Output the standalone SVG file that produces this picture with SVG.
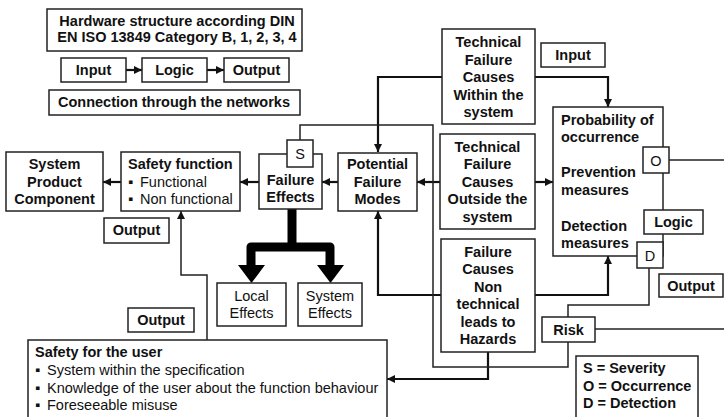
<svg xmlns="http://www.w3.org/2000/svg" width="724" height="417" viewBox="0 0 724 417">
<defs>
<style>
.box{fill:#fff;stroke:#222;stroke-width:1.5}
.b{font-family:"Liberation Sans","DejaVu Sans",Arial,sans-serif;font-weight:bold;font-size:14.5px;fill:#111}
.n{font-family:"Liberation Sans","DejaVu Sans",Arial,sans-serif;font-size:14.5px;fill:#111}
.c{text-anchor:middle}
.thick{fill:none;stroke:#111;stroke-width:2.2}
.thin{fill:none;stroke:#222;stroke-width:1.5}
.tree{fill:none;stroke:#000;stroke-width:9;stroke-linejoin:round}
</style>
<marker id="ah" viewBox="0 0 10 10" refX="10" refY="5" markerWidth="9" markerHeight="8" markerUnits="userSpaceOnUse" orient="auto">
<path d="M0,0 L10,5 L0,10 z" fill="#111"/>
</marker>
</defs>
<rect width="724" height="417" fill="#fff"/>

<g id="connectors">
<path class="thick" d="M126,70 H142" marker-end="url(#ah)"/>
<path class="thick" d="M207,70 H224" marker-end="url(#ah)"/>
<path class="thick" d="M442,77 H378 V152" marker-end="url(#ah)"/>
<path class="thick" d="M535,77 H608 V107" marker-end="url(#ah)"/>
<path class="thick" d="M440,182 H417" marker-end="url(#ah)"/>
<path class="thick" d="M535,182 H553" marker-end="url(#ah)"/>
<path class="thick" d="M338,182 H322" marker-end="url(#ah)"/>
<path class="thick" d="M259,182 H240" marker-end="url(#ah)"/>
<path class="thick" d="M121,182 H103" marker-end="url(#ah)"/>
<path class="thick" d="M441,295 H378 V211" marker-end="url(#ah)"/>
<path class="thick" d="M535,295 H608 V256" marker-end="url(#ah)"/>
<path class="thick" d="M488,352 V379 H387" marker-end="url(#ah)"/>
<path class="thin" d="M300,140 V125 H433 V367 H568 V342"/>
<path class="thin" d="M649,268 V305 H568 V317"/>
<path class="thin" d="M669,160 H724"/>
<path class="thin" d="M595,329 H724"/>
<path class="thin" d="M207,340 V275 H181 V211" marker-end="url(#ah)"/>
<path class="tree" d="M292,209 V247 H251 V266 M292,247 H330 V266"/>
<polygon points="238,265 265,265 251.5,283" fill="#000"/>
<polygon points="317,265 344,265 330.5,283" fill="#000"/>
</g>

<g id="hardware">
<rect class="box" x="47" y="9" width="255" height="42"/>
<text class="b c" x="177" y="26">Hardware structure according DIN</text>
<text class="b c" x="177" y="42">EN ISO 13849 Category B, 1, 2, 3, 4</text>
</g>
<g id="input-top"><rect class="box" x="61" y="58" width="65" height="24"/><text class="b c" x="93.5" y="75">Input</text></g>
<g id="logic-top"><rect class="box" x="142" y="58" width="65" height="24"/><text class="b c" x="174.5" y="75">Logic</text></g>
<g id="output-top"><rect class="box" x="224" y="58" width="65" height="24"/><text class="b c" x="256.5" y="75">Output</text></g>
<g id="connection"><rect class="box" x="49" y="90" width="251" height="25"/><text class="b c" x="174" y="107">Connection through the networks</text></g>

<g id="tech-within">
<rect class="box" x="442" y="29" width="93" height="95"/>
<text class="b c" x="488.5" y="47">Technical</text>
<text class="b c" x="488.5" y="65">Failure</text>
<text class="b c" x="488.5" y="82">Causes</text>
<text class="b c" x="488.5" y="100">Within the</text>
<text class="b c" x="488.5" y="117">system</text>
</g>
<g id="input-label"><rect class="box" x="541" y="43" width="64" height="24"/><text class="b c" x="573" y="60">Input</text></g>

<g id="probability">
<rect class="box" x="553" y="107" width="110" height="149"/>
<text class="b" x="561" y="125">Probability of</text>
<text class="b" x="561" y="142">occurrence</text>
<text class="b" x="561" y="177">Prevention</text>
<text class="b" x="561" y="195">measures</text>
<text class="b" x="561" y="231">Detection</text>
<text class="b" x="561" y="248">measures</text>
</g>
<g id="o-box"><rect class="box" x="643" y="147" width="26" height="26"/><text class="n c" x="656" y="166" font-size="16">O</text></g>
<g id="logic-right"><rect class="box" x="644" y="210" width="59" height="24"/><text class="b c" x="673.5" y="227">Logic</text></g>
<g id="d-box"><rect class="box" x="637" y="242" width="26" height="26"/><text class="n c" x="650" y="261" font-size="16">D</text></g>
<g id="output-right"><rect class="box" x="659" y="274" width="64" height="23"/><text class="b c" x="691" y="291">Output</text></g>

<g id="tech-outside">
<rect class="box" x="440" y="134" width="95" height="95"/>
<text class="b c" x="487.5" y="152">Technical</text>
<text class="b c" x="487.5" y="169">Failure</text>
<text class="b c" x="487.5" y="187">Causes</text>
<text class="b c" x="487.5" y="204">Outside the</text>
<text class="b c" x="487.5" y="222">system</text>
</g>

<g id="non-technical">
<rect class="box" x="441" y="239" width="94" height="113"/>
<text class="b c" x="488" y="257">Failure</text>
<text class="b c" x="488" y="274">Causes</text>
<text class="b c" x="488" y="292">Non</text>
<text class="b c" x="488" y="309">technical</text>
<text class="b c" x="488" y="327">leads to</text>
<text class="b c" x="488" y="344">Hazards</text>
</g>

<g id="potential">
<rect class="box" x="338" y="153" width="79" height="58"/>
<text class="b c" x="377.5" y="169">Potential</text>
<text class="b c" x="377.5" y="187">Failure</text>
<text class="b c" x="377.5" y="204">Modes</text>
</g>

<g id="failure-effects">
<rect class="box" x="259" y="154" width="63" height="55"/>
<text class="b c" x="290.5" y="185">Failure</text>
<text class="b c" x="290.5" y="202">Effects</text>
</g>
<g id="s-box"><rect class="box" x="287" y="140" width="26" height="27"/><text class="n c" x="300" y="159" font-size="16">S</text></g>

<g id="safety-function">
<rect class="box" x="121" y="152" width="119" height="59"/>
<text class="b" x="128" y="169">Safety function</text>
<text class="n" x="128" y="187">▪</text><text class="n" x="140" y="187">Functional</text>
<text class="n" x="128" y="204">▪</text><text class="n" x="140" y="204">Non functional</text>
</g>

<g id="system-product">
<rect class="box" x="6" y="152" width="97" height="59"/>
<text class="b c" x="54.5" y="169">System</text>
<text class="b c" x="54.5" y="187">Product</text>
<text class="b c" x="54.5" y="204">Component</text>
</g>
<g id="output-left"><rect class="box" x="104" y="218" width="65" height="25"/><text class="b c" x="136.5" y="235">Output</text></g>

<g id="local-effects">
<rect class="box" x="217" y="283" width="69" height="43"/>
<text class="n c" x="251.5" y="301">Local</text>
<text class="n c" x="251.5" y="318">Effects</text>
</g>
<g id="system-effects">
<rect class="box" x="298" y="283" width="64" height="43"/>
<text class="n c" x="330" y="301">System</text>
<text class="n c" x="330" y="318">Effects</text>
</g>

<g id="output-bottom"><rect class="box" x="128" y="308" width="66" height="24"/><text class="b c" x="161" y="325">Output</text></g>

<g id="safety-user">
<rect class="box" x="28" y="340" width="359" height="80"/>
<text class="b" x="35" y="357">Safety for the user</text>
<text class="n" x="35" y="375">▪</text><text class="n" x="47" y="375">System within the specification</text>
<text class="n" x="35" y="393">▪</text><text class="n" x="47" y="393">Knowledge of the user about the function behaviour</text>
<text class="n" x="35" y="410">▪</text><text class="n" x="47" y="410">Foreseeable misuse</text>
</g>

<g id="risk"><rect class="box" x="542" y="317" width="53" height="25"/><text class="b c" x="568.5" y="335">Risk</text></g>

<g id="legend">
<rect class="box" x="576" y="356" width="122" height="62"/>
<text class="b" x="583" y="373">S = Severity</text>
<text class="b" x="583" y="391">O = Occurrence</text>
<text class="b" x="583" y="408">D = Detection</text>
</g>
</svg>
